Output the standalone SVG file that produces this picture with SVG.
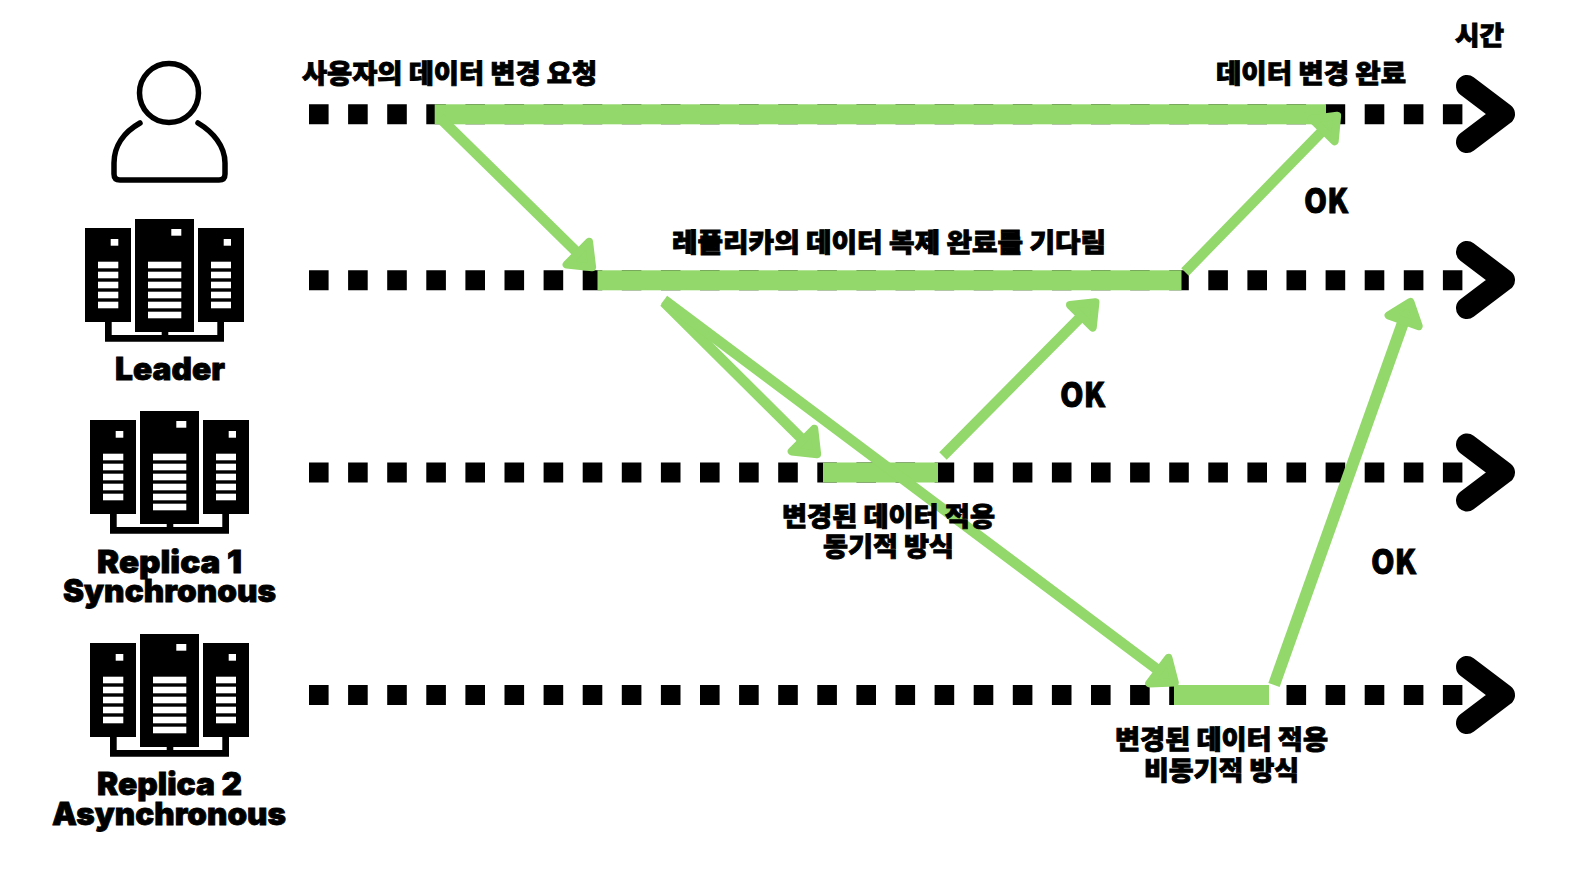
<svg xmlns="http://www.w3.org/2000/svg" width="1594" height="870" viewBox="0 0 1594 870">
<style>
.tl{stroke:#000;stroke-width:20;stroke-dasharray:19.6 19.5;fill:none}
.chev{stroke:#000;stroke-width:22;fill:none;stroke-linecap:round;stroke-linejoin:round}
.bar{fill:#92d86a}
.arr{stroke:#92d86a;stroke-width:10.5;fill:none;marker-end:url(#head)}
.k{font-family:"Noto Sans CJK KR","Noto Sans",sans-serif;font-weight:900;font-size:26px;fill:#000;stroke:#000;stroke-width:.9px;text-anchor:start}
.ok{font-family:"Noto Sans CJK KR","Noto Sans",sans-serif;font-weight:900;font-size:33px;fill:#000;stroke:#000;stroke-width:.9px;text-anchor:start}
.l{font-family:"Inter","Noto Sans CJK KR",sans-serif;font-weight:900;font-size:31px;fill:#000;stroke:#000;stroke-width:.8px;text-anchor:start}
</style>
<defs>
<marker id="head" markerUnits="userSpaceOnUse" viewBox="-20 -25 50 50" markerWidth="50" markerHeight="50" refX="0" refY="0" orient="auto">
<path d="M16 0L-4 -16L-4 16Z" fill="#92d86a" stroke="#92d86a" stroke-width="8" stroke-linejoin="round"/>
</marker>
<g id="server">
<rect x="85" y="228" width="46" height="94"/><rect x="135" y="219" width="59" height="113"/><rect x="198" y="228" width="46" height="94"/>
<path d="M105 322V341.7H224V322H217.3V335H168.3V332H161.7V335H111.7V322Z"/>
<g fill="#fff">
<rect x="110.7" y="239" width="7.6" height="6.7"/><rect x="171.3" y="229" width="10" height="6.7"/><rect x="223.7" y="239" width="7.3" height="6.7"/>
<rect x="98" y="261.7" width="20.3" height="6.6"/><rect x="98" y="271.7" width="20.3" height="6.6"/><rect x="98" y="281.7" width="20.3" height="6.6"/><rect x="98" y="291.7" width="20.3" height="6.6"/><rect x="98" y="301.7" width="20.3" height="6.6"/>
<rect x="148" y="261.7" width="33.3" height="6.6"/><rect x="148" y="271.7" width="33.3" height="6.6"/><rect x="148" y="281.7" width="33.3" height="6.6"/><rect x="148" y="291.7" width="33.3" height="6.6"/><rect x="148" y="301.7" width="33.3" height="6.6"/><rect x="148" y="311.7" width="33.3" height="6.6"/>
<rect x="211" y="261.7" width="20" height="6.6"/><rect x="211" y="271.7" width="20" height="6.6"/><rect x="211" y="281.7" width="20" height="6.6"/><rect x="211" y="291.7" width="20" height="6.6"/><rect x="211" y="301.7" width="20" height="6.6"/>
</g>
</g>
</defs>
<rect width="1594" height="870" fill="#fff"/>
<g id="timelines">
<line class="tl" x1="309" y1="114.3" x2="1462.4" y2="114.3"/><path class="chev" d="M1467 86L1504 114L1467 142"/>
<line class="tl" x1="309" y1="280.3" x2="1462.4" y2="280.3"/><path class="chev" d="M1467 252L1504 280L1467 308"/>
<line class="tl" x1="309" y1="472.5" x2="1462.4" y2="472.5"/><path class="chev" d="M1467 444.5L1504 472.5L1467 500.5"/>
<line class="tl" x1="309" y1="695" x2="1462.4" y2="695"/><path class="chev" d="M1467 667L1504 695L1467 723"/>
</g>
<g id="activity-bars">
<rect class="bar" x="434.7" y="104.3" width="891.3" height="20"/>
<rect class="bar" x="597.5" y="270.3" width="584" height="20"/>
<rect class="bar" x="823" y="462.5" width="115" height="20"/>
<rect class="bar" x="1174" y="685" width="95" height="20"/>
</g>
<g id="connectors">
<line class="arr" x1="440" y1="118" x2="580.7" y2="256"/>
<line class="arr" x1="1185" y1="272" x2="1326" y2="127.3"/>
<line class="arr" x1="664" y1="302" x2="805.8" y2="442.9"/>
<line class="arr" x1="664" y1="300" x2="1162" y2="673"/>
<line class="arr" x1="943" y1="456" x2="1084.2" y2="313.5"/>
<line class="arr" x1="1274" y1="685" x2="1405" y2="317" style="stroke-width:12"/>
</g>
<g id="user"><circle cx="169" cy="93" r="29.5" fill="none" stroke="#000" stroke-width="5.5"/>
<path d="M140 123C124 132 114 146 114 163V174Q114 180 120 180H219Q225 180 225 174V163C225 146 213 132 198 123" fill="none" stroke="#000" stroke-width="5.5" stroke-linecap="round"/></g>
<g id="leader"><use href="#server"/><text class="l" x="115" y="380" textLength="110" lengthAdjust="spacingAndGlyphs">Leader</text></g>
<g id="replica1"><use href="#server" transform="translate(5 192)"/><text class="l" x="97" y="573" textLength="145" lengthAdjust="spacingAndGlyphs">Replica 1</text><text class="l" x="63" y="602" textLength="213" lengthAdjust="spacingAndGlyphs">Synchronous</text></g>
<g id="replica2"><use href="#server" transform="translate(5 415)"/><text class="l" x="97" y="795" textLength="145" lengthAdjust="spacingAndGlyphs">Replica 2</text><text class="l" x="52" y="825" textLength="234" lengthAdjust="spacingAndGlyphs">Asynchronous</text></g>
<g id="labels">
<text class="k" x="302" y="83" textLength="295" lengthAdjust="spacingAndGlyphs">사용자의 데이터 변경 요청</text>
<text class="k" x="1216" y="83" textLength="190" lengthAdjust="spacingAndGlyphs">데이터 변경 완료</text>
<text class="k" x="1455" y="45" textLength="49" lengthAdjust="spacingAndGlyphs">시간</text>
<text class="ok" x="1304" y="213" textLength="44" lengthAdjust="spacingAndGlyphs">OK</text>
<text class="k" x="672" y="252" textLength="434" lengthAdjust="spacingAndGlyphs">레플리카의 데이터 복제 완료를 기다림</text>
<text class="ok" x="1060" y="407" textLength="45" lengthAdjust="spacingAndGlyphs">OK</text>
<text class="k" x="782" y="526" textLength="213" lengthAdjust="spacingAndGlyphs">변경된 데이터 적용</text>
<text class="k" x="823" y="556" textLength="131" lengthAdjust="spacingAndGlyphs">동기적 방식</text>
<text class="ok" x="1371" y="574" textLength="45" lengthAdjust="spacingAndGlyphs">OK</text>
<text class="k" x="1115" y="749" textLength="213" lengthAdjust="spacingAndGlyphs">변경된 데이터 적용</text>
<text class="k" x="1144" y="780" textLength="155" lengthAdjust="spacingAndGlyphs">비동기적 방식</text>
</g>
</svg>
